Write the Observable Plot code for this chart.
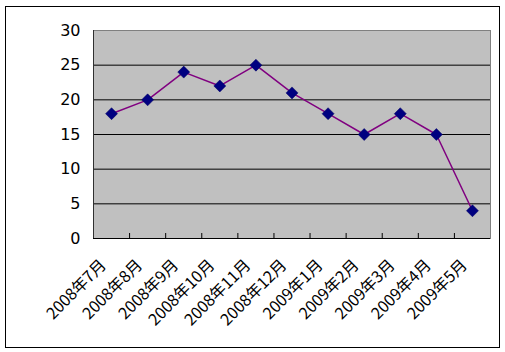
<!DOCTYPE html>
<html><head><meta charset="utf-8">
<script src="https://cdn.jsdelivr.net/npm/d3@7"></script>
<script src="https://cdn.jsdelivr.net/npm/@observablehq/plot@0.6"></script>
<style>
body{margin:0;background:#fff;}
#wrap{position:relative;width:505px;height:352px;}
#frame{position:absolute;left:5px;top:6px;width:493px;height:340px;border:1px solid #000;}
#chart{position:absolute;left:0;top:0;}
</style></head><body>
<div id="wrap"><div id="frame"></div><div id="chart"></div></div>
<script>
const months = ["2008年7月","2008年8月","2008年9月","2008年10月","2008年11月","2008年12月","2009年1月","2009年2月","2009年3月","2009年4月","2009年5月"];
const values = [18, 20, 24, 22, 25, 21, 18, 15, 18, 15, 4];
const yTicks = [0, 5, 10, 15, 20, 25, 30];

const data = months.map((m, i) => ({month: m, idx: i + 0.5, value: values[i]}));
const boundaries = months.slice(1).map((m, i) => i + 1);

const W = 505, H = 352, mT = 30, mB = 114, mL = 93, mR = 15;
const plotH = H - mT - mB;
const tickLen = 5 * 30 / plotH; // 5px inward tick in data units

const diamond = {draw(ctx, size) {
  const r = Math.sqrt(size / Math.PI);
  ctx.moveTo(0, -r); ctx.lineTo(r, 0); ctx.lineTo(0, r); ctx.lineTo(-r, 0); ctx.closePath();
}};

const chart = Plot.plot({
  width: W, height: H, marginTop: mT, marginBottom: mB, marginLeft: mL, marginRight: mR,
  style: {background: "transparent", fontFamily: "'DejaVu Sans', sans-serif", color: "#000"},
  x: {type: "linear", domain: [0, months.length], axis: null},
  y: {domain: [0, 30], axis: null},
  marks: [
    Plot.frame({fill: "#c0c0c0", stroke: "#808080"}),
    Plot.ruleY(yTicks.filter(t => t > 0 && t < 30), {stroke: "#000", strokeWidth: 1}),
    Plot.ruleY([0], {stroke: "#000"}),
    Plot.ruleX([0], {stroke: "#303030"}),
    Plot.ruleX(boundaries, {y1: 0, y2: tickLen, stroke: "#000"}),
    Plot.axisY(yTicks, {tickSize: 0, tickPadding: 13, fontSize: 16, label: null, fontFamily: "'DejaVu Sans', sans-serif"}),
    Plot.text(data, {x: "idx", y: 0, text: "month", rotate: -45, textAnchor: "end", dy: 24, dx: -8, fontSize: 16, fill: "#000", fontFamily: "'Noto Sans CJK JP', sans-serif"}),
    Plot.line(data, {x: "idx", y: "value", stroke: "#800080", strokeWidth: 1.5}),
    Plot.dot(data, {x: "idx", y: "value", symbol: diamond, r: 6, fill: "#000080", stroke: "#000060", strokeWidth: 0.5})
  ]
});
document.getElementById("chart").append(chart);
</script>
</body></html>
